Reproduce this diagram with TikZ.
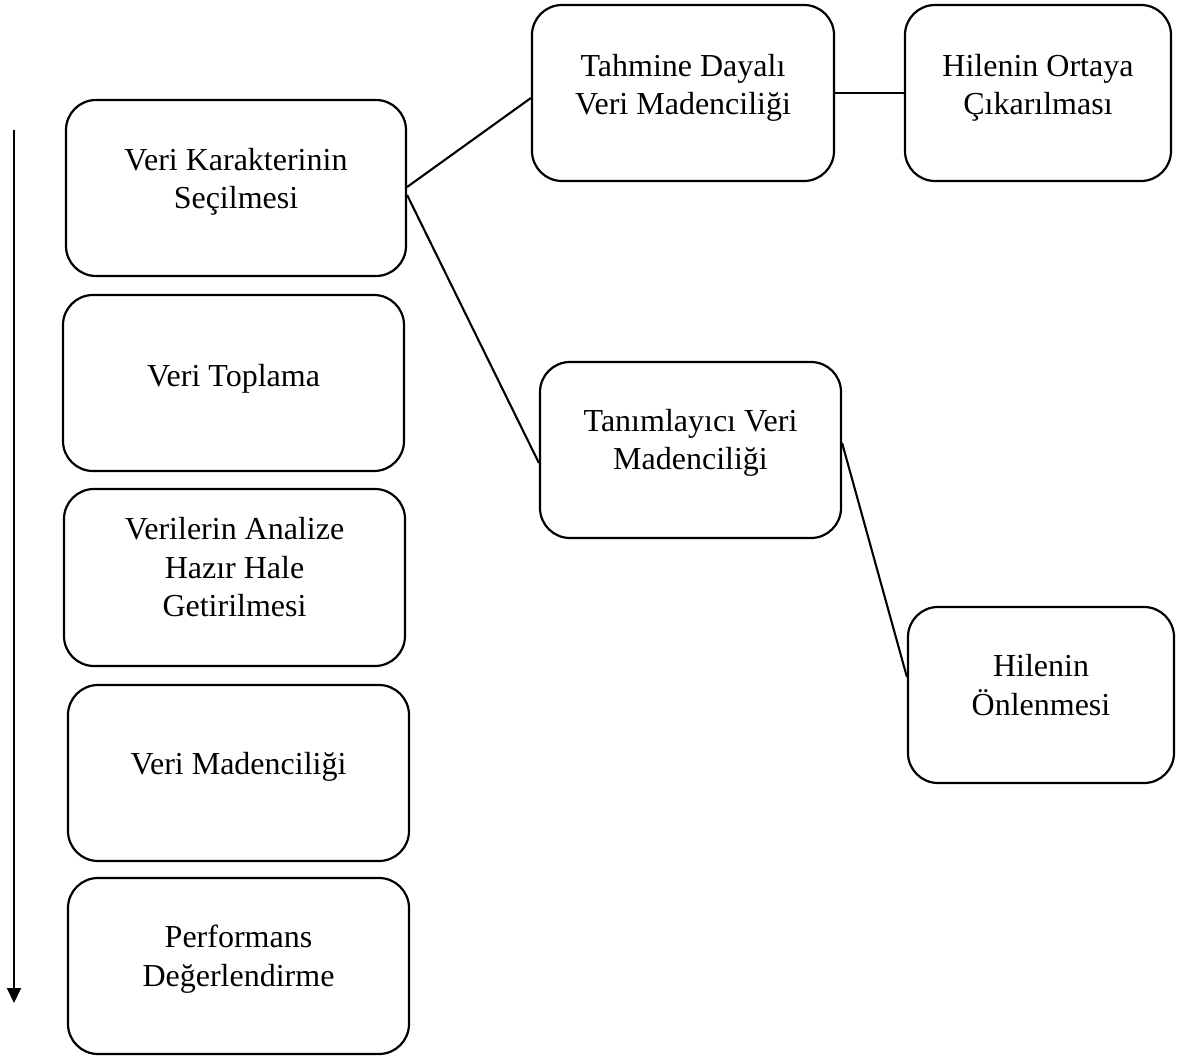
\documentclass[tikz,border=0pt]{standalone}
\usepackage{fontspec}
\setmainfont{Liberation Serif}
\usetikzlibrary{arrows.meta}
\begin{document}
\begin{tikzpicture}[x=1pt,y=-1pt,
  stepbox/.style={draw, line width=2.2pt, rounded corners=30pt, inner sep=0pt},
  lbl/.style={align=center, font=\fontsize{32}{38.5}\selectfont, inner sep=0pt},
  link/.style={line width=2.1pt}]
\useasboundingbox (0,0) rectangle (1179,1059);

% process steps (left column)
\node[stepbox, minimum width=340pt, minimum height=176pt] (b1) at (236,188) {};
\node[stepbox, minimum width=341pt, minimum height=176pt] (b2) at (233.5,383) {};
\node[stepbox, minimum width=341pt, minimum height=177pt] (b3) at (234.5,577.5) {};
\node[stepbox, minimum width=341pt, minimum height=176pt] (b4) at (238.5,773) {};
\node[stepbox, minimum width=341pt, minimum height=176pt] (b5) at (238.5,966) {};

% mining branches and outcomes
\node[stepbox, minimum width=302pt, minimum height=176pt] (b6) at (683,93) {};
\node[stepbox, minimum width=266pt, minimum height=176pt] (b7) at (1038,93) {};
\node[stepbox, minimum width=301pt, minimum height=176pt] (b8) at (690.5,450) {};
\node[stepbox, minimum width=266pt, minimum height=176pt] (b9) at (1041,695) {};

% labels, set slightly above each box centre
\node[lbl] (t1) at ([yshift=6pt]b1.center) {Veri Karakterinin\\Seçilmesi};
\node[lbl] (t2) at ([yshift=4pt]b2.center) {Veri Toplama};
\node[lbl] (t3) at ([yshift=10pt]b3.center) {Verilerin Analize\\Hazır Hale\\Getirilmesi};
\node[lbl] (t4) at ([yshift=6pt]b4.center) {Veri Madenciliği};
\node[lbl] (t5) at ([yshift=7pt]b5.center) {Performans\\Değerlendirme};
\node[lbl] (t6) at ([yshift=5pt]b6.center) {Tahmine Dayalı\\Veri Madenciliği};
\node[lbl] (t7) at ([yshift=5pt]b7.center) {Hilenin Ortaya\\Çıkarılması};
\node[lbl] (t8) at ([yshift=7pt]b8.center) {Tanımlayıcı Veri\\Madenciliği};
\node[lbl] (t9) at ([yshift=10pt]b9.center) {Hilenin\\Önlenmesi};

% connectors
\draw[link] ([yshift=1pt]b1.east) -- ([yshift=-5pt]b6.west);
\draw[link] ([yshift=-7pt]b1.east) -- ([yshift=-13pt]b8.west);
\draw[link] (b6.east) -- (b7.west);
\draw[link] ([yshift=7pt]b8.east) -- ([yshift=18pt]b9.west);

% flow direction arrow
\coordinate (arrTop) at (14,130);
\coordinate (arrEnd) at (14,1003);
\draw[line width=2pt, -{Triangle[length=15pt,width=14pt]}] (arrTop) -- (arrEnd);
\end{tikzpicture}
\end{document}
